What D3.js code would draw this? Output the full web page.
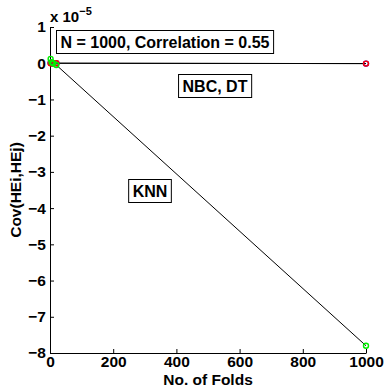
<!DOCTYPE html>
<html>
<head>
<meta charset="utf-8">
<script src="https://cdn.jsdelivr.net/npm/d3@7/dist/d3.min.js"></script>
<style>
  html, body { margin: 0; padding: 0; background: #fff; }
  svg { display: block; font-family: "Liberation Sans", Arial, Helvetica, sans-serif; font-weight: bold; }
</style>
</head>
<body>
<svg id="chart" width="385" height="387"></svg>
<script>
// Number of folds used in cross-validation
const folds = [2, 5, 10, 20, 1000];
// Covariance between hold-out errors, in units of 1e-5
const nbcCov = [0.01, 0.0, 0.0, 0.0, -0.01];
const dtCov  = [0.0, 0.0, 0.0, 0.0, -0.01];
const knnCov = [0.12, 0.03, 0.0, -0.05, -7.8];

const xTicks = [0, 200, 400, 600, 800, 1000];
const yTicks = [1, 0, -1, -2, -3, -4, -5, -6, -7, -8];

const series = [
  { name: "NBC", values: nbcCov, color: "#0000ff" },
  { name: "DT",  values: dtCov,  color: "#ff0000" },
  { name: "KNN", values: knnCov, color: "#00ee00" }
];

const svg = d3.select("#chart");
const plotLeft = 50, plotRight = 366, plotTop = 27, plotBottom = 353;

const x = d3.scaleLinear().domain([0, 1000]).range([plotLeft, plotRight]);
const y = d3.scaleLinear().domain([-8, 1]).range([plotBottom, plotTop]);

// Axes (left and bottom only, ticks pointing inward)
const xAxis = d3.axisBottom(x).tickValues(xTicks).tickSizeInner(-4).tickSizeOuter(0).tickPadding(5)
  .tickFormat(d3.format("d"));
const yAxis = d3.axisLeft(y).tickValues(yTicks).tickSizeInner(-4).tickSizeOuter(0).tickPadding(5)
  .tickFormat(d => d < 0 ? "\u2212" + Math.abs(d) : d);

const gx = svg.append("g").attr("transform", `translate(0,${plotBottom})`).call(xAxis);
const gy = svg.append("g").attr("transform", `translate(${plotLeft},0)`).call(yAxis);
[gx, gy].forEach(g => {
  g.attr("font-family", null).attr("font-size", null);
  g.selectAll("path").attr("stroke", "#000").attr("stroke-width", 1);
  g.selectAll("line").attr("stroke", "#000");
  g.selectAll("text").attr("fill", "#000").style("font-size", "15.5px").style("font-weight", "bold");
});
gx.selectAll("text").attr("dy", "0.6em");
gy.selectAll("text").attr("dx", "0.05em");

// Exponent label
const expo = svg.append("text").attr("x", plotLeft).attr("y", 22).style("font-size", "15px");
expo.append("tspan").text("x 10");
expo.append("tspan").attr("dy", -7).style("font-size", "11px").text("\u22125");

// Lines and markers
const line = d3.line().x((d, i) => x(folds[i])).y(d => y(d));
series.forEach(s => {
  svg.append("path").datum(s.values).attr("d", line)
    .attr("fill", "none").attr("stroke", "#000").attr("stroke-width", 1);
});
series.forEach(s => {
  svg.append("g").selectAll("circle").data(s.values).join("circle")
    .attr("cx", (d, i) => x(folds[i])).attr("cy", d => y(d)).attr("r", 2.5)
    .attr("fill", "none").attr("stroke", s.color).attr("stroke-width", 1.4);
});

// Boxed annotations
function boxedText(cx, cy, txt) {
  const g = svg.append("g");
  const t = g.append("text").attr("x", cx).attr("y", cy).attr("text-anchor", "middle")
    .attr("dominant-baseline", "central").style("font-size", "16px").text(txt);
  const b = t.node().getBBox();
  g.insert("rect", "text").attr("x", b.x - 4).attr("y", cy - 11.5)
    .attr("width", b.width + 8).attr("height", 23)
    .attr("fill", "#fff").attr("stroke", "#000").attr("stroke-width", 1);
}
boxedText(165, 42, "N = 1000, Correlation = 0.55");
boxedText(215, 86, "NBC, DT");
boxedText(150, 191, "KNN");

// Axis titles
svg.append("text").attr("x", (plotLeft + plotRight) / 2).attr("y", 385).attr("text-anchor", "middle")
  .style("font-size", "15.5px").text("No. of Folds");
svg.append("text").attr("transform", `translate(21,${(plotTop + plotBottom) / 2}) rotate(-90)`)
  .attr("text-anchor", "middle").style("font-size", "15.5px").text("Cov(HEi,HEj)");
</script>
</body>
</html>
